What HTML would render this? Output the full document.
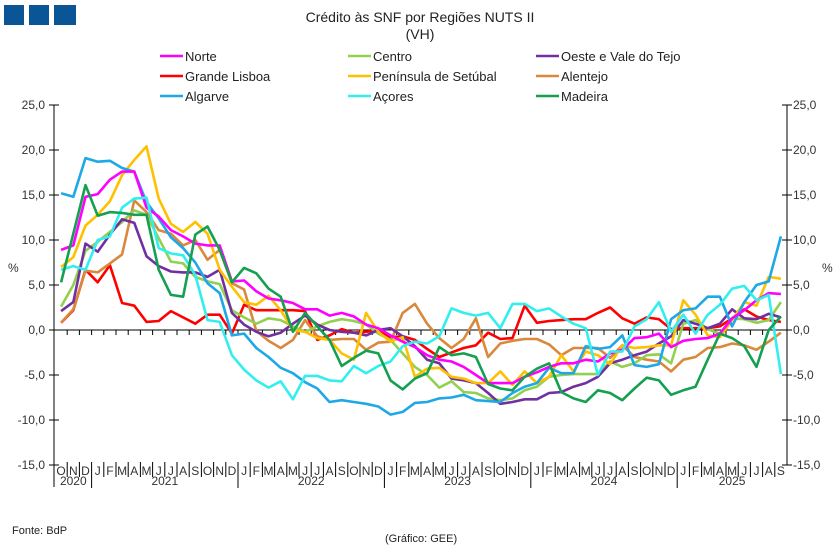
<!DOCTYPE html>
<html><head><meta charset="utf-8"><style>
body{margin:0;background:#fff;}
svg{display:block;font-family:"Liberation Sans",Arial,sans-serif;}
</style></head><body>
<svg id="s" width="839" height="551" viewBox="0 0 839 551" xmlns="http://www.w3.org/2000/svg">
<rect width="839" height="551" fill="#fff"/>
<rect x="4" y="5" width="20" height="20" fill="#0a5596"/>
<rect x="29" y="5" width="20" height="20" fill="#0a5596"/>
<rect x="54" y="5" width="22" height="20" fill="#0a5596"/>
<text x="420" y="22" font-size="14" text-anchor="middle" fill="#222">Crédito às SNF por Regiões NUTS II</text>
<text x="420" y="39" font-size="14" text-anchor="middle" fill="#222">(VH)</text>
<g id="leg" font-size="13" fill="#222"></g>
<g id="axes" font-size="12" fill="#333"></g>
<g id="lines" fill="none" stroke-width="2.6" stroke-linejoin="round"></g>
<text x="12" y="534" font-size="11" fill="#222">Fonte: BdP</text>
<text x="385" y="542" font-size="11" fill="#222">(Gráfico: GEE)</text>
</svg>
<script>
const S={
Norte:["#ff00ff",[8.9,9.4,14.8,15.1,16.7,17.6,17.6,13.6,12.6,11.1,10.4,9.6,9.4,9.4,5.4,5.5,4.3,3.5,3.3,3.0,2.3,2.3,1.6,1.9,1.5,0.6,0.2,-0.6,-1.3,-1.9,-2.8,-3.3,-3.5,-4.1,-5.0,-5.9,-5.9,-5.9,-5.2,-4.7,-4.1,-3.7,-3.7,-3.3,-3.5,-2.6,-2.2,-0.9,-0.8,-0.4,-1.9,-1.2,-1.0,-0.9,-0.4,1.3,2.2,3.3,4.1,4.0]],
Centro:["#92d050",[2.6,5.0,8.8,9.8,10.9,12.0,13.3,12.8,10.2,7.6,7.4,5.9,5.4,5.1,2.2,1.4,0.7,1.3,1.1,0.4,-0.2,0.4,0.9,1.2,1.0,0.6,-0.4,-1.1,-2.6,-4.1,-5.0,-6.4,-5.7,-6.9,-7.0,-7.6,-7.8,-7.6,-6.7,-6.3,-5.2,-5.0,-4.9,-4.9,-4.9,-3.5,-4.1,-3.7,-2.8,-2.7,-3.7,0.7,1.1,0.1,-0.4,1.3,1.2,0.8,1.1,3.1]],
Oeste:["#7030a0",[2.1,3.1,9.6,8.7,10.6,12.3,11.9,8.2,7.1,6.5,6.4,6.4,5.9,6.7,1.9,0.6,-0.2,-0.7,-0.3,0.7,1.6,0.6,0.0,-0.2,-0.3,-0.6,0.0,0.2,-0.7,-1.8,-3.3,-3.7,-5.4,-5.6,-5.9,-7.0,-8.2,-8.0,-7.7,-7.7,-7.0,-6.9,-6.3,-5.9,-5.2,-3.7,-3.3,-2.8,-2.4,-1.5,-0.7,1.1,0.7,0.2,0.7,2.3,1.3,1.2,1.8,1.4]],
Lisboa:["#ff0000",[0.8,2.2,6.7,5.3,7.2,3.0,2.7,0.9,1.0,2.1,1.4,0.7,1.7,1.7,-0.4,2.8,2.2,2.2,2.2,2.2,2.1,-1.1,-0.6,0.1,-0.3,-0.2,0.0,-0.8,-0.7,-1.1,-2.1,-3.0,-2.5,-2.0,-1.7,-0.3,-1.0,-0.9,2.7,0.8,1.0,1.1,1.2,1.2,1.9,2.5,1.3,0.7,1.4,1.2,0.1,0.2,0.2,0.2,0.4,1.3,2.3,1.5,1.1,0.9]],
Setubal:["#ffc000",[7.0,8.1,11.6,12.8,14.3,17.2,18.9,20.4,14.6,11.8,10.9,12.0,10.7,6.7,4.8,3.1,2.8,3.8,2.2,0.0,-0.2,-0.9,-1.1,-2.6,-3.3,1.9,-0.2,-1.3,-0.8,-5.2,-4.3,-4.2,-5.2,-5.4,-5.9,-5.9,-4.6,-6.1,-4.6,-5.9,-5.2,-2.8,-4.6,-2.4,-2.8,-3.8,-1.7,-2.0,-1.9,-1.7,-1.7,3.3,1.7,-0.6,-0.8,1.1,3.1,2.7,5.9,5.7]],
Alentejo:["#d9883c",[0.8,2.3,6.6,6.4,7.4,8.4,14.4,13.1,11.1,10.7,9.4,10.0,7.8,8.9,5.2,4.5,-0.1,-1.2,-2.0,-1.1,1.1,-0.7,-1.1,-1.0,-1.0,-2.2,-1.4,-1.3,1.9,2.9,0.7,-0.9,-2.0,-1.0,1.3,-3.0,-1.5,-1.2,-1.0,-1.0,-1.6,-2.8,-2.0,-2.0,-2.0,-3.1,-1.7,-3.0,-3.3,-3.5,-4.6,-3.3,-3.0,-2.0,-1.9,-1.5,-1.7,-2.2,-1.3,-0.3]],
Algarve:["#1ea8e6",[15.2,14.8,19.1,18.7,18.8,18.0,17.6,14.2,12.4,10.3,9.1,7.5,5.2,4.1,-0.6,-0.4,-2.0,-3.0,-4.2,-4.8,-5.8,-6.5,-8.0,-7.8,-8.0,-8.2,-8.5,-9.4,-9.1,-8.1,-8.0,-7.6,-7.5,-7.2,-7.8,-7.9,-8.0,-7.0,-6.3,-5.9,-4.2,-4.8,-4.8,-1.8,-2.1,-1.9,-0.6,-3.9,-4.1,-3.8,1.2,2.2,2.4,3.7,3.7,0.4,3.1,5.0,5.4,10.4]],
Acores:["#33eeee",[6.7,7.1,6.7,10.0,10.4,13.6,14.6,14.7,9.1,8.5,8.3,6.1,1.1,0.9,-2.8,-4.4,-5.6,-6.4,-5.7,-7.7,-5.1,-5.1,-5.6,-5.7,-4.0,-4.8,-4.0,-3.5,-1.8,-1.3,-1.5,-0.7,2.4,1.9,1.6,1.9,0.2,2.9,2.9,2.1,2.4,1.5,0.7,0.2,-5.0,-2.4,-2.4,0.4,1.2,3.1,-0.2,1.7,-0.4,1.7,2.8,4.6,4.9,3.3,3.9,-4.9]],
Madeira:["#14a050",[5.3,10.7,16.1,12.7,13.1,13.0,12.8,12.8,6.7,3.9,3.7,10.6,11.5,8.9,5.3,6.9,6.3,4.6,3.7,-0.2,1.9,0.4,-1.1,-4.0,-3.1,-2.3,-2.6,-5.6,-6.6,-5.4,-4.8,-1.9,-2.8,-2.6,-3.0,-6.0,-6.5,-6.7,-5.2,-4.3,-3.7,-6.9,-7.6,-8.0,-6.7,-7.0,-7.8,-6.5,-5.3,-5.6,-7.2,-6.7,-6.3,-3.3,-0.4,-0.9,-1.8,-4.1,0.0,1.5]]
};
const NS="http://www.w3.org/2000/svg";
function el(p,t,a,txt){const e=document.createElementNS(NS,t);for(const k in a)e.setAttribute(k,a[k]);if(txt!==undefined)e.textContent=txt;p.appendChild(e);return e;}
const X0=55,DX=12.2,Y0=330,K=9,R=787;
const ax=document.getElementById('axes');
// axes
el(ax,'line',{x1:54,y1:105,x2:54,y2:487,stroke:'#000','stroke-width':1});
el(ax,'line',{x1:R,y1:105,x2:R,y2:465,stroke:'#000','stroke-width':1});
el(ax,'line',{x1:54,y1:Y0,x2:R,y2:Y0,stroke:'#000','stroke-width':1});
for(let v=-15;v<=25;v+=5){const y=Y0-v*K;const s=v.toFixed(1).replace('.',',');
el(ax,'line',{x1:49,y1:y,x2:59,y2:y,stroke:'#000','stroke-width':1});
el(ax,'line',{x1:R-5,y1:y,x2:R+5,y2:y,stroke:'#000','stroke-width':1});
el(ax,'text',{x:45,y:y+4,'text-anchor':'end','font-size':12},s);
el(ax,'text',{x:793,y:y+4,'font-size':12},s);}
el(ax,'text',{x:8,y:272,'font-size':12},'%');
el(ax,'text',{x:822,y:272,'font-size':12},'%');
const M="ONDJFMAMJJASONDJFMAMJJASONDJFMAMJJASONDJFMAMJJASONDJFMAMJJAS";
for(let i=0;i<60;i++){const x=X0+DX*(i+0.5);
el(ax,'text',{x:x,y:475,'text-anchor':'middle','font-size':12},M[i]);
const b=X0+DX*(i+1);
if(i<59){const yr=(i==2||i==14||i==26||i==38||i==50);
el(ax,'line',{x1:b,y1:462,x2:b,y2:yr?488:477,stroke:'#000','stroke-width':1});}
el(ax,'line',{x1:b,y1:Y0,x2:b,y2:Y0+5,stroke:'#000','stroke-width':1});}
const yrs=[[2020,0,3],[2021,3,15],[2022,15,27],[2023,27,39],[2024,39,51],[2025,51,60]];
yrs.forEach(([y,a,b])=>el(ax,'text',{x:X0+DX*(a+b)/2,y:485,'text-anchor':'middle','font-size':12},y));
// lines
const lg=document.getElementById('lines');
const order=['Lisboa','Alentejo','Centro','Oeste','Setubal','Algarve','Norte','Acores','Madeira'];
order.forEach(k=>{const [c,d]=S[k];el(lg,'polyline',{stroke:c,points:d.map((v,i)=>(X0+DX*(i+0.5)).toFixed(1)+','+(Y0-v*K).toFixed(1)).join(' ')});});
// legend
const L=document.getElementById('leg');
const items=[["Norte","#ff00ff",0,0],["Centro","#92d050",1,0],["Oeste e Vale do Tejo","#7030a0",2,0],
["Grande Lisboa","#ff0000",0,1],["Península de Setúbal","#ffc000",1,1],["Alentejo","#d9883c",2,1],
["Algarve","#1ea8e6",0,2],["Açores","#33eeee",1,2],["Madeira","#14a050",2,2]];
const cx=[160,348,536];
items.forEach(([t,c,col,row])=>{const y=56+row*20;
el(L,'line',{x1:cx[col],y1:y,x2:cx[col]+23,y2:y,stroke:c,'stroke-width':2.6});
el(L,'text',{x:cx[col]+25,y:y+5},t);});
</script>
</body></html>
